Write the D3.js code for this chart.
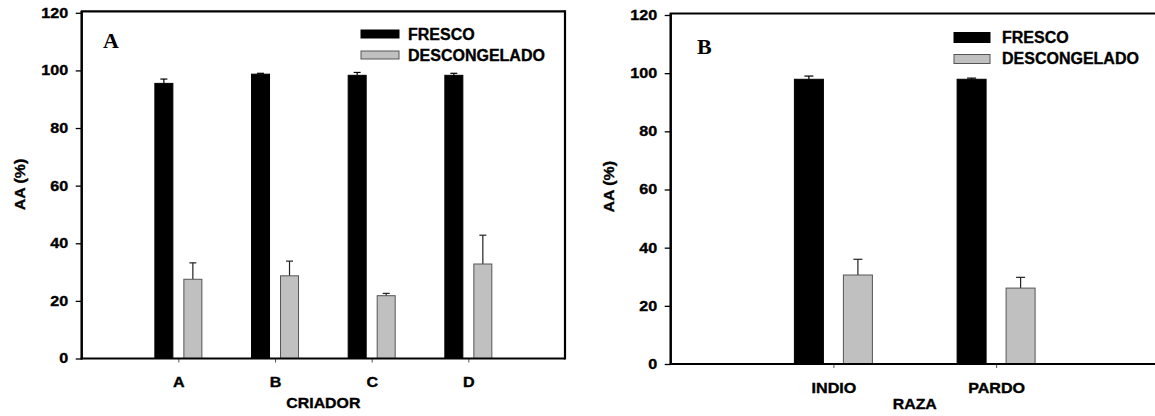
<!DOCTYPE html>
<html>
<head>
<meta charset="utf-8">
<script src="https://cdn.jsdelivr.net/npm/d3@7"></script>
<style>
  html, body { margin: 0; padding: 0; background: #fff; }
  svg { display: block; }
  text.sans { font-family: "Liberation Sans", Arial, sans-serif; font-weight: bold; fill: #000; stroke: #000; stroke-width: 0.35px; }
  text.serif { font-family: "Liberation Serif", "Times New Roman", serif; font-weight: bold; fill: #000; }
</style>
</head>
<body>
<svg id="chart" width="1155" height="416"></svg>
<script>
// ---- Data ----
const seriesNames = ["FRESCO", "DESCONGELADO"];
const yTicks = [0, 20, 40, 60, 80, 100, 120];

const catsA = ["A", "B", "C", "D"];
const frescoA = [95.5, 98.7, 98.3, 98.3];
const frescoErrA = [1.5, 0.3, 1.0, 0.7];
const descA = [27.5, 28.7, 21.8, 32.8];
const descErrA = [5.7, 5.1, 0.8, 10.0];

const catsB = ["INDIO", "PARDO"];
const frescoB = [97.9, 97.9];
const frescoErrB = [1.1, 0.4];
const descB = [30.6, 26.1];
const descErrB = [5.4, 3.7];

// ---- Layout ----
const svg = d3.select("#chart");
const colors = { FRESCO: "#000000", DESCONGELADO: "#c0c0c0" };

const panels = [
  { id: "A", cats: catsA, vals: [frescoA, descA], errs: [frescoErrA, descErrA],
    xDom: [0, 5], xRange: [81.7, 565], yRange: [358.5, 12.8],
    barW: 18, off: 14.5, capW: 7,
    title: "CRIADOR", titleY: 408, yTitleX: 24.5, yTitleY: 184.5,
    letter: "A", letterX: 103, letterY: 48,
    legend: { x: 361, w: 38, rects: [[30, 8], [51, 8]], tx: 408, ty: [39.5, 61] },
    rightBorder: true },
  { id: "B", cats: catsB, vals: [frescoB, descB], errs: [frescoErrB, descErrB],
    xDom: [0, 3], xRange: [670.7, 1158.8], yRange: [364, 15],
    barW: 29, off: 24.5, capW: 9,
    title: "RAZA", titleY: 409, yTitleX: 614, yTitleY: 186.7,
    letter: "B", letterX: 697, letterY: 54.3,
    legend: { x: 954, w: 36, rects: [[32.5, 10], [54.5, 9]], tx: 1002, ty: [42.7, 64.3] },
    rightBorder: false }
];

const tickSX = 1.15, titleSX = 1.06;

panels.forEach(p => {
  const g = svg.append("g");
  const x = d3.scaleLinear().domain(p.xDom).range(p.xRange);
  const y = d3.scaleLinear().domain([0, 120]).range(p.yRange);
  const x0 = p.xRange[0], x1 = Math.min(p.xRange[1], 1160);
  const yb = y(0), yt = y(120) - 1.5;

  // bars
  seriesNames.forEach((s, si) => {
    const sgn = si === 0 ? -1 : 1;
    const data = p.vals[si].map((v, i) => ({ i, v, e: p.errs[si][i] }));
    const eg = g.append("g").attr("stroke", si === 0 ? "#000" : "#222").attr("stroke-width", 1.2);
    data.forEach(d => {
      const cx = x(d.i + 1) + sgn * p.off;
      eg.append("line").attr("x1", cx).attr("x2", cx).attr("y1", y(d.v)).attr("y2", y(d.v + d.e));
      eg.append("line").attr("x1", cx - p.capW / 2).attr("x2", cx + p.capW / 2)
        .attr("y1", y(d.v + d.e)).attr("y2", y(d.v + d.e));
    });
    g.append("g").selectAll("rect").data(data).join("rect")
      .attr("x", d => x(d.i + 1) + sgn * p.off - p.barW / 2)
      .attr("y", d => y(d.v))
      .attr("width", p.barW)
      .attr("height", d => yb - y(d.v))
      .attr("fill", colors[s])
      .attr("stroke", si === 0 ? "#000" : "#555")
      .attr("stroke-width", 1);
  });

  // y axis
  const ya = g.append("g").attr("transform", `translate(${x0},0)`)
    .call(d3.axisLeft(y).tickValues(yTicks).tickSize(6).tickPadding(7));
  ya.select(".domain").remove();
  ya.selectAll(".tick line").attr("stroke", "#000").attr("stroke-width", 1.3);
  ya.selectAll(".tick text").attr("class", "sans").attr("font-size", 14)
    .attr("x", -13.5 / tickSX).attr("transform", `scale(${tickSX},1)`);

  // x axis
  const xa = g.append("g").attr("transform", `translate(0,${yb})`)
    .call(d3.axisBottom(x).tickValues(p.cats.map((c, i) => i + 1))
      .tickFormat(v => p.cats[v - 1]).tickSize(4).tickPadding(14));
  xa.select(".domain").remove();
  xa.selectAll(".tick line").attr("stroke", "#555").attr("stroke-width", 1);
  xa.selectAll(".tick text").attr("class", "sans").attr("font-size", 14)
    .attr("transform", `scale(${tickSX},1)`)
    .attr("dy", null).attr("y", 29);

  // frame
  const fr = g.append("g").attr("fill", "none").attr("stroke", "#000");
  fr.append("line").attr("x1", x0).attr("x2", x0).attr("y1", yt).attr("y2", yb + 1).attr("stroke-width", 2.5);
  fr.append("line").attr("x1", x0 - 1).attr("x2", x1).attr("y1", yb).attr("y2", yb).attr("stroke-width", 2.2);
  fr.append("line").attr("x1", x0 - 1).attr("x2", x1).attr("y1", yt).attr("y2", yt).attr("stroke-width", 2.2);
  if (p.rightBorder) {
    fr.append("line").attr("x1", x1).attr("x2", x1).attr("y1", yt - 1).attr("y2", yb + 1).attr("stroke-width", 2.2);
  }

  // axis titles
  g.append("text").attr("class", "sans")
    .attr("transform", `translate(${(x0 + p.xRange[1]) / 2},${p.titleY}) scale(${titleSX},1)`)
    .attr("text-anchor", "middle").attr("font-size", 15).text(p.title);
  g.append("text").attr("class", "sans")
    .attr("transform", `translate(${p.yTitleX},${p.yTitleY}) rotate(-90) scale(${titleSX},1)`)
    .attr("text-anchor", "middle").attr("font-size", 15).text("AA (%)");

  // panel letter
  g.append("text").attr("class", "serif").attr("x", p.letterX).attr("y", p.letterY)
    .attr("font-size", 22).text(p.letter);

  // legend
  const lg = g.append("g");
  seriesNames.forEach((s, si) => {
    const [ry, rh] = p.legend.rects[si];
    lg.append("rect").attr("x", p.legend.x).attr("y", ry).attr("width", p.legend.w).attr("height", rh)
      .attr("fill", colors[s]).attr("stroke", si === 0 ? "#000" : "#555").attr("stroke-width", 1);
    lg.append("text").attr("class", "sans").attr("x", p.legend.tx).attr("y", p.legend.ty[si])
      .attr("font-size", 16).text(s);
  });
});
</script>
</body>
</html>
